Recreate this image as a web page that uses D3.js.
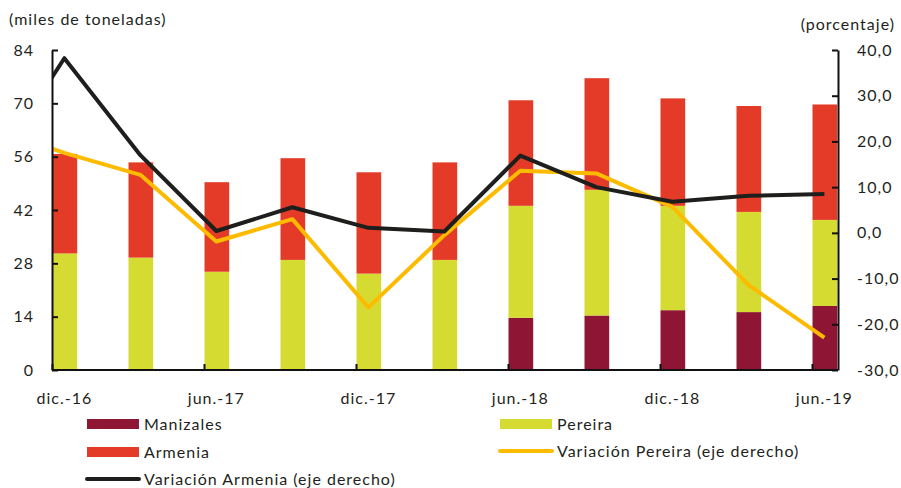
<!DOCTYPE html>
<html>
<head>
<meta charset="utf-8">
<script src="https://cdn.jsdelivr.net/npm/d3@7"></script>
<style>
  html, body { margin: 0; padding: 0; background: #fff; }
  svg text { font-family: Lato, "Open Sans", sans-serif; fill: #231f20; letter-spacing: 1px; }
</style>
</head>
<body>
<div id="chart"></div>
<script>
// Trimestres (eje horizontal)
var categories = ["dic.-16", "mar.-17", "jun.-17", "sep.-17", "dic.-17", "mar.-18",
                  "jun.-18", "sep.-18", "dic.-18", "mar.-19", "jun.-19"];
var shownLabels = ["dic.-16", "jun.-17", "dic.-17", "jun.-18", "dic.-18", "jun.-19"];

// miles de toneladas (barras apiladas)
var manizales = [0, 0, 0, 0, 0, 0, 13.7, 14.3, 15.7, 15.2, 16.8];
var pereira   = [30.6, 29.5, 25.8, 28.9, 25.3, 28.9, 29.4, 33.0, 27.4, 26.3, 22.6];
var armenia   = [26.1, 25.0, 23.5, 26.7, 26.6, 25.6, 27.7, 29.3, 28.2, 27.8, 30.3];

// porcentaje (eje derecho); prev* = trimestre anterior (sep.-16), recortado por el eje
var varPereira = [17.5, 12.7, -1.9, 3.0, -16.3, -0.5, 13.6, 13.0, 5.7, -11.4, -22.9];
var varArmenia = [38.2, 17.0, 0.4, 5.6, 1.1, 0.3, 16.9, 10.0, 6.8, 8.1, 8.5];
var prevVarPereira = 23.3;
var prevVarArmenia = 12.5;

var leftTicks = [0, 14, 28, 42, 56, 70, 84];
var rightTicks = [-30, -20, -10, 0, 10, 20, 30, 40];

var W = 901, H = 488;
var plot = { left: 52, right: 838, top: 50, bottom: 370 };

var C = {
    manizales: "#8e1634",
    pereira:   "#d5db31",
    armenia:   "#e43a28",
    varPer:    "#fdbb00",
    varArm:    "#1e1e1c",
    axis:      "#111"
};

var svg = d3.select("#chart").append("svg")
    .attr("width", W).attr("height", H);

var x = d3.scalePoint()
    .domain(categories)
    .range([plot.left, 812]);
var barW = x.step() * 0.325;

var yL = d3.scaleLinear().domain([0, 84]).range([plot.bottom, plot.top]);
var yR = d3.scaleLinear().domain([-30, 40]).range([plot.bottom, plot.top]);

// ── Barras apiladas ──────────────────────────────────────────────────────
var rows = categories.map(function (c, i) {
    return { cat: c, manizales: manizales[i], pereira: pereira[i], armenia: armenia[i] };
});
var stack = d3.stack().keys(["manizales", "pereira", "armenia"])(rows);

svg.append("g").selectAll("g")
    .data(stack)
    .join("g")
    .attr("fill", function (s) { return C[s.key]; })
    .selectAll("rect")
    .data(function (s) { return s; })
    .join("rect")
    .attr("x", function (d) { return x(d.data.cat) + 0.5; })
    .attr("width", barW)
    .attr("y", function (d) { return yL(d[1]); })
    .attr("height", function (d) { return yL(d[0]) - yL(d[1]); });

// ── Líneas de variación ─────────────────────────────────────────────────
svg.append("defs").append("clipPath").attr("id", "plotclip")
    .append("rect")
    .attr("x", plot.left).attr("y", 0)
    .attr("width", plot.right - plot.left).attr("height", H);

function seriesPoints(prev, vals) {
    var pts = [{ x: x(categories[0]) - x.step() + barW / 2, v: prev }];
    vals.forEach(function (v, i) {
        pts.push({ x: x(categories[i]) + barW / 2, v: v });
    });
    return pts;
}

var line = d3.line()
    .x(function (d) { return d.x; })
    .y(function (d) { return yR(d.v); });

var gl = svg.append("g").attr("clip-path", "url(#plotclip)");
gl.append("path")
    .datum(seriesPoints(prevVarPereira, varPereira))
    .attr("d", line)
    .attr("fill", "none")
    .attr("stroke", C.varPer)
    .attr("stroke-width", 4)
    .attr("stroke-linejoin", "round");
gl.append("path")
    .datum(seriesPoints(prevVarArmenia, varArmenia))
    .attr("d", line)
    .attr("fill", "none")
    .attr("stroke", C.varArm)
    .attr("stroke-width", 4)
    .attr("stroke-linejoin", "round");

// ── Ejes ────────────────────────────────────────────────────────────────
function fmtPct(v) {
    return v.toFixed(1).replace(".", ",");
}

var axL = svg.append("g")
    .attr("transform", "translate(" + plot.left + ",0)")
    .call(d3.axisLeft(yL).tickValues(leftTicks).tickSize(-6).tickSizeOuter(0).tickPadding(18)
        .tickFormat(d3.format("d")));

var axR = svg.append("g")
    .attr("transform", "translate(" + plot.right + ",0)")
    .call(d3.axisRight(yR).tickValues(rightTicks).tickSize(-6).tickSizeOuter(0).tickPadding(19)
        .tickFormat(fmtPct));

var axB = svg.append("g")
    .attr("transform", "translate(0," + plot.bottom + ")")
    .call(d3.axisBottom(x).tickValues(shownLabels).tickSize(-6).tickSizeOuter(0)
        .tickFormat(""));

[axL, axR, axB].forEach(function (ax) {
    ax.select(".domain").attr("stroke", C.axis).attr("stroke-width", 2);
    ax.selectAll(".tick line").attr("stroke", C.axis).attr("stroke-width", 2);
    ax.selectAll(".tick text")
        .attr("font-size", 16)
        .attr("font-family", "Lato, 'Open Sans', sans-serif")
        .attr("fill", "#231f20");
});
axB.select(".domain").attr("d", "M" + plot.left + ",0H" + plot.right);

// etiquetas del eje x, centradas en la barra
svg.append("g").selectAll("text")
    .data(shownLabels)
    .join("text")
    .attr("x", function (c) { return x(c) + barW / 2; })
    .attr("y", 404)
    .attr("text-anchor", "middle")
    .attr("font-size", 16)
    .text(function (c) { return c; });

// títulos de ejes
svg.append("text")
    .attr("x", 9).attr("y", 25)
    .attr("font-size", 16)
    .text("(miles de toneladas)");
svg.append("text")
    .attr("x", 895).attr("y", 30)
    .attr("text-anchor", "end")
    .attr("font-size", 16)
    .text("(porcentaje)");

// ── Leyenda ─────────────────────────────────────────────────────────────
var legendItems = [
    { label: "Manizales", kind: "rect", color: C.manizales, x: 87, y: 424 },
    { label: "Pereira", kind: "rect", color: C.pereira, x: 500, y: 424 },
    { label: "Armenia", kind: "rect", color: C.armenia, x: 87, y: 452 },
    { label: "Variación Pereira (eje derecho)", kind: "line", color: C.varPer, x: 500, y: 451 },
    { label: "Variación Armenia (eje derecho)", kind: "line", color: C.varArm, x: 87, y: 479 }
];

var lg = svg.append("g").selectAll("g")
    .data(legendItems)
    .join("g")
    .attr("transform", function (d) { return "translate(" + d.x + "," + d.y + ")"; });

lg.filter(function (d) { return d.kind === "rect"; })
    .append("rect")
    .attr("x", 0).attr("y", -5)
    .attr("width", 52).attr("height", 10)
    .attr("fill", function (d) { return d.color; });

lg.filter(function (d) { return d.kind === "line"; })
    .append("line")
    .attr("x1", 0).attr("x2", 52)
    .attr("y1", 0).attr("y2", 0)
    .attr("stroke", function (d) { return d.color; })
    .attr("stroke-width", 4)
    .attr("stroke-linecap", "round");

lg.append("text")
    .attr("x", 57)
    .attr("y", 0)
    .attr("dy", "0.35em")
    .attr("font-size", 16)
    .text(function (d) { return d.label; });
</script>
</body>
</html>
